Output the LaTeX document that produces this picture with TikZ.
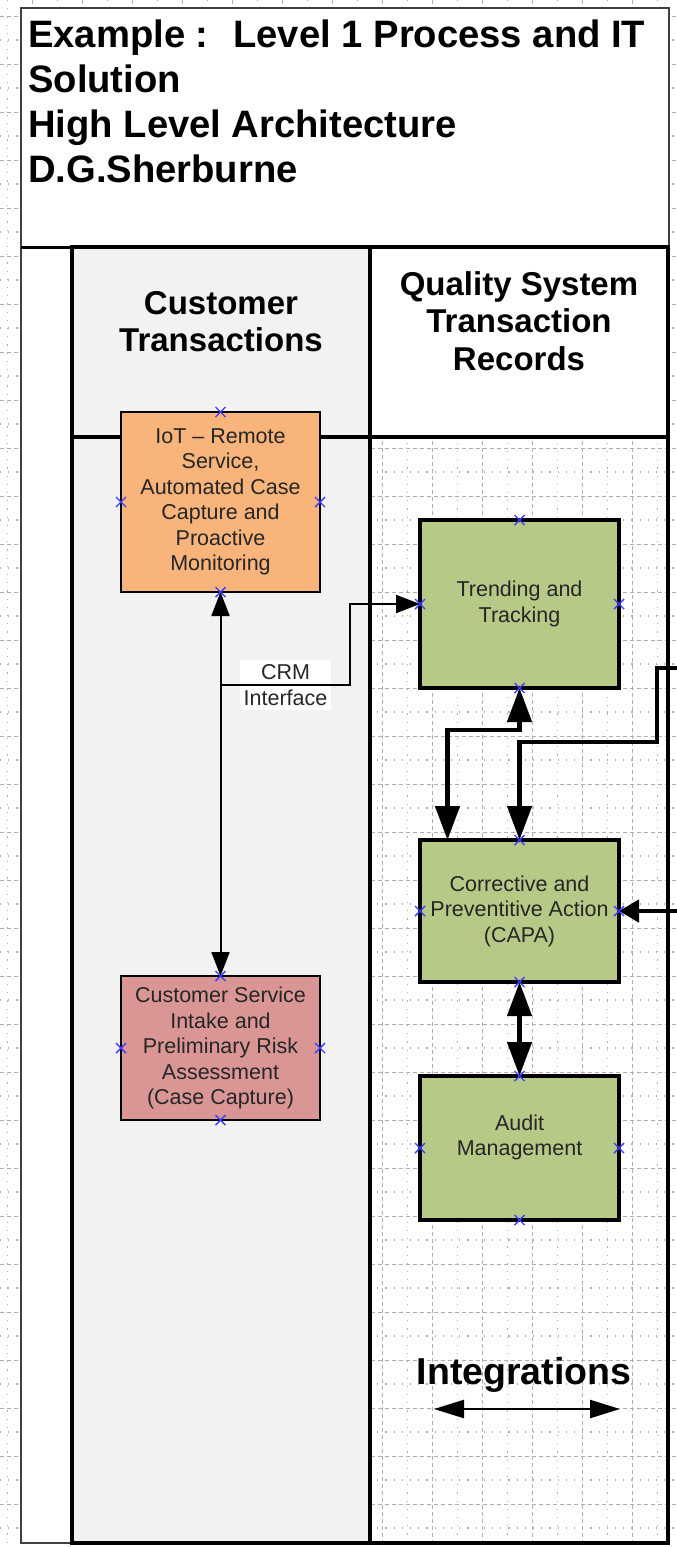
\documentclass[tikz,border=0pt]{standalone}
\usepackage{fontspec}
\setmainfont{Liberation Sans}
\usepackage{tikz}
\usetikzlibrary{positioning}
\usetikzlibrary{arrows.meta}
\definecolor{iotorange}{RGB}{248,180,122}
\definecolor{riskpink}{RGB}{218,150,148}
\definecolor{qsgreen}{RGB}{182,201,135}
\definecolor{lanegray}{RGB}{242,242,242}
\definecolor{gridgray}{RGB}{175,175,175}
\definecolor{cpblue}{RGB}{60,60,255}

\begin{document}
\begin{tikzpicture}[x=1pt, y=-1pt, node distance=20pt,
    gridmajor/.style={gridgray, line width=1pt, dash pattern=on 4pt off 3pt},
    gridminor/.style={gridgray, line width=1.1pt, dash pattern=on 1.2pt off 7pt},
    thinframe/.style={draw=black!75, line width=1.8pt},
    laneline/.style={line width=4pt},
    titletext/.style={align=left, inner sep=0pt, font=\bfseries\fontsize{38.2}{45}\selectfont},
    lanehead/.style={align=center, inner sep=0pt, font=\bfseries\fontsize{33}{37.5}\selectfont},
    boxtext/.style={align=center, inner sep=0pt, outer sep=0pt, text=black!85,
        font=\fontsize{21.5}{25.5}\selectfont},
    custbox/.style={boxtext, draw, line width=2pt, minimum width=199pt},
    iotbox/.style={custbox, fill=iotorange, minimum height=180pt},
    riskbox/.style={custbox, fill=riskpink, minimum height=144pt},
    qsbox/.style={boxtext, draw, line width=4.5pt, fill=qsgreen, minimum width=199pt, minimum height=144pt},
    thinconn/.style={line width=2pt, >={Triangle[length=24pt,width=18pt]}},
    thickconn/.style={line width=4.5pt, >={Triangle[length=34pt,width=24pt]}},
    cpmark/.style={cpblue, line width=1.4pt}]
      \useasboundingbox (0,0) rectangle (677,1547);

      % background grid
      \foreach \k in {-1,...,13} {
        \draw[gridmajor] ({32.7+50*\k},0) -- ({32.7+50*\k},1547);
        \draw[gridminor] ({7.7+50*\k},0) -- ({7.7+50*\k},1547);
      }
      \foreach \k in {0,...,32} {
        \draw[gridmajor] (0,{16+48*\k}) -- (677,{16+48*\k});
        \draw[gridminor] (0,{-8+48*\k}) -- (677,{-8+48*\k});
      }

      % title and lanes
      \draw[thinframe, fill=white] (21,8) rectangle (669,247);
      \draw[thinframe, fill=white] (21,247) rectangle (72,1543);
      \fill[lanegray] (72,247) rectangle (370,1543);
      \fill[white] (370,247) rectangle (668,437);
      \draw[line width=3pt] (21,247) -- (668,247);
      \draw[laneline] (72,247) rectangle (370,1543);
      \draw[laneline] (370,247) rectangle (668,1543);
      \draw[laneline] (72,437) -- (668,437);

      \node(title) [titletext, anchor=north west] at (28,20) {Example :~ Level 1 Process and IT\\Solution\\High Level Architecture\\D.G.Sherburne};
      \node(custhead) [lanehead] at (221,321.5) {Customer\\Transactions};
      \node(qshead) [lanehead] at (519,321) {Quality System\\Transaction\\Records};

      % boxes
      \node(iot) [iotbox] at (220.5,502) {IoT -- Remote\\Service,\\Automated Case\\Capture and\\Proactive\\Monitoring};
      \node(intake) [riskbox, below=384pt of iot] {Customer Service\\Intake and\\Preliminary Risk\\Assessment\\(Case Capture)};
      \node(trend) [qsbox, minimum height=168pt] at (519.5,604) {Trending and\\Tracking};
      \node(capa) [qsbox, minimum height=142pt, below=152pt of trend] {Corrective and\\Preventitive Action\\(CAPA)};
      \node(audit) [qsbox, below=94pt of capa] {Audit\\Management\\~};

      \node(crm) [boxtext, fill=white, minimum width=91pt, minimum height=50pt] at (285.5,685) {CRM\\Interface};

      \coordinate (offa) at (677,668);
      \coordinate (offb) at (677,911);

      % connectors
      \draw[thinconn, <->] (iot) -- (intake);
      \draw[thinconn, ->] (iot.south |- crm.center) -- ++(129,0) |- (trend.west);
      \draw[thickconn, <->] (trend.south) -- ++(0,42) -| ([xshift=-72pt]capa.north);
      \draw[thickconn, ->] (offa) -- ++(-20,0) -- ++(0,74) -| (capa.north);
      \draw[line width=4.5pt, -{Triangle[length=20pt,width=22pt]}] (offb) -- (capa.east);
      \draw[thickconn, <->] (capa) -- (audit);

      % connection points
      \foreach \b in {iot,intake,trend,capa,audit}
        \foreach \a in {north,south,east,west}
          \draw[cpmark] ([shift={(-5pt,-5pt)}]\b.\a) -- ++(10pt,10pt)
                        ([shift={(-5pt,5pt)}]\b.\a) -- ++(10pt,-10pt);

      \node(integ) [font=\bfseries\fontsize{37.5}{44}\selectfont] at (524,1375) {Integrations};
      \coordinate (intl) at (434,1409);
      \coordinate (intr) at (620,1409);
      \draw[line width=2.5pt, <->, >={Triangle[length=30pt,width=18pt]}] (intl) -- (intr);
    \end{tikzpicture}
\end{document}
